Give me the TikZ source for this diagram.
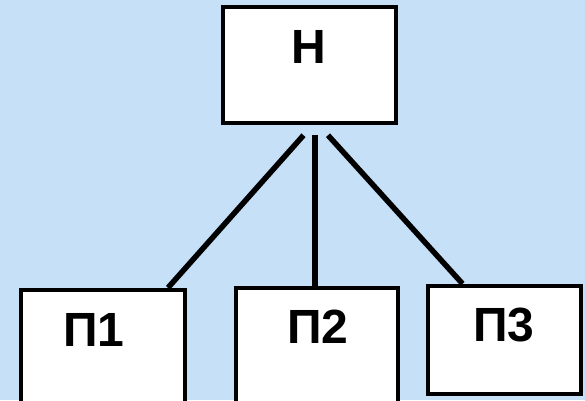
\documentclass[tikz,border=0pt]{standalone}
\usepackage{fontspec}
\setmainfont{Liberation Sans}
\definecolor{bgblue}{RGB}{198,224,248}
\begin{document}
\begin{tikzpicture}[x=1pt,y=-1pt,
  box/.style={draw=black,line width=4.5pt,fill=white,inner sep=0pt},
  lbl/.style={font=\bfseries\fontsize{48}{52}\selectfont,inner sep=0pt,anchor=center},
  conn/.style={line width=5.5pt,black}]
\useasboundingbox (0,0) rectangle (585,400);
\clip (0,0) rectangle (585,400);
\fill[bgblue] (0,0) rectangle (585,400);
\node[box,minimum width=173pt,minimum height=116pt] (h) at (309.5,65) {};
\node[box,minimum width=164pt,minimum height=125pt] (p1) at (103,352.5) {};
\node[box,minimum width=162pt,minimum height=125pt] (p2) at (317,350.5) {};
\node[box,minimum width=153pt,minimum height=108pt] (p3) at (504.5,340) {};
\node[lbl] (th) at (309,47) {Н};
\node[lbl] (t1) at (94,330) {П1};
\node[lbl] (t2) at (318,327) {П2};
\node[lbl] (t3) at (504,325) {П3};
\coordinate (a1) at ([xshift=-6pt,yshift=-10pt]h.south);
\coordinate (a2) at ([xshift=5.5pt,yshift=-10pt]h.south);
\coordinate (a3) at ([xshift=18.5pt,yshift=-10pt]h.south);
\draw[conn] (a1) -- ([xshift=65pt]p1.north);
\draw[conn] (a2) -- (p2.north -| a2);
\draw[conn] (a3) -- ([xshift=-42pt]p3.north);
\end{tikzpicture}
\end{document}
